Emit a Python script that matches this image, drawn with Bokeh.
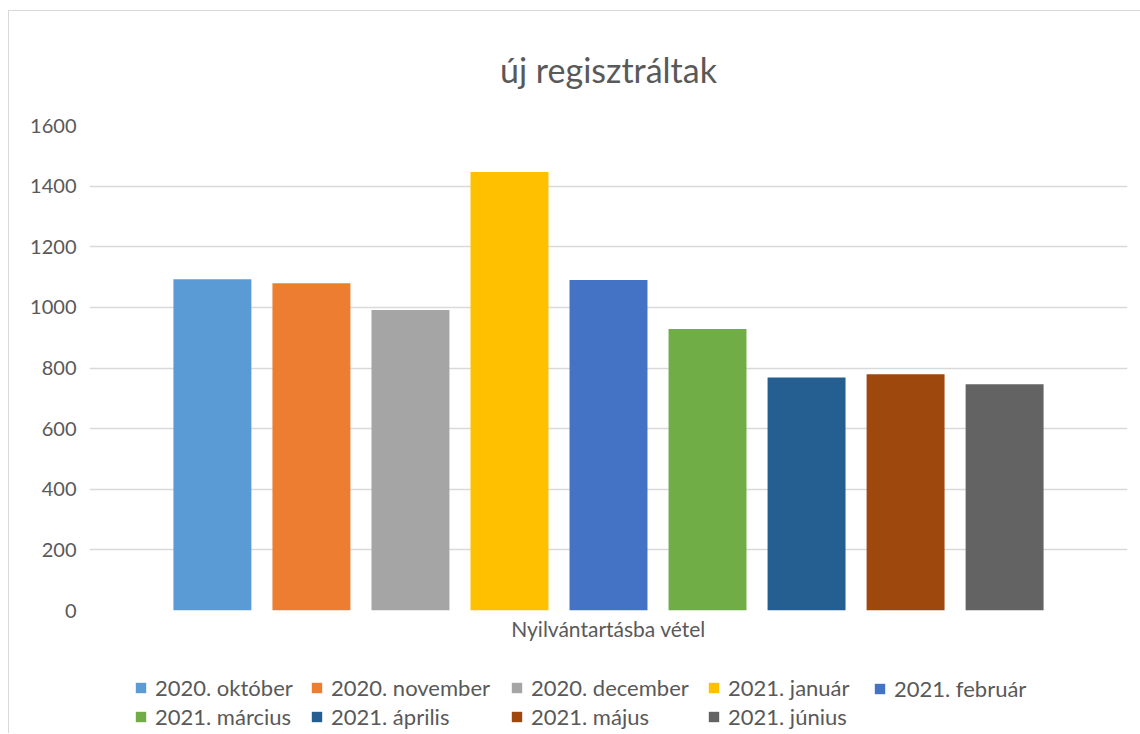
from bokeh.plotting import figure
from bokeh.layouts import column
from bokeh.models import (FactorRange, Range1d, ColumnDataSource, Legend, LegendItem,
                          SingleIntervalTicker)
from bokeh.transform import dodge
from bokeh.embed import file_html
from bokeh.resources import INLINE

title = "új regisztráltak"
category = "Nyilvántartásba vétel"
months = ["2020. október", "2020. november", "2020. december", "2021. január",
          "2021. február", "2021. március", "2021. április", "2021. május", "2021. június"]
values = [1093, 1080, 991, 1447, 1090, 929, 769, 779, 746]
colors = ["#5B9BD5", "#ED7D31", "#A5A5A5", "#FFC000", "#4472C4",
          "#70AD47", "#255E91", "#9E480E", "#636363"]

FONT = "Lato"
TXT = "#595959"
W = 1131

p = figure(x_range=FactorRange(category, range_padding=0), y_range=Range1d(0, 1600),
           width=W, height=650, output_backend="svg", toolbar_location=None,
           min_border_left=80, min_border_right=13, min_border_top=110, min_border_bottom=51)

p.title.text = title
p.title.text_font = FONT
p.title.text_font_size = "34px"
p.title.text_font_style = "normal"
p.title.text_color = TXT
p.title.align = "center"
p.title.standoff = 71

n = len(values)
step = 0.0954
bw = 0.0751
for i, (v, c) in enumerate(zip(values, colors)):
    src = ColumnDataSource(dict(cat=[category], top=[v]))
    p.vbar(x=dodge("cat", (i - (n - 1) / 2) * step, range=p.x_range), top="top",
           width=bw, source=src, color=c, line_color=None)

p.outline_line_color = None
p.xgrid.grid_line_color = None
p.ygrid.grid_line_color = "#d9d9d9"
p.ygrid.grid_line_width = 1.5

p.yaxis.ticker = SingleIntervalTicker(interval=200)
p.yaxis.axis_line_color = None
p.yaxis.major_tick_line_color = None
p.yaxis.major_tick_out = 0
p.yaxis.minor_tick_line_color = None
p.yaxis.major_label_text_font = FONT
p.yaxis.major_label_text_font_size = "20px"
p.yaxis.major_label_text_color = TXT
p.yaxis.major_label_standoff = 9

p.xaxis.axis_line_color = None
p.xaxis.major_tick_line_color = None
p.xaxis.major_tick_out = 0
p.xaxis.major_label_text_font = FONT
p.xaxis.major_label_text_font_size = "21px"
p.xaxis.major_label_text_color = TXT
p.xaxis.major_label_standoff = 5

# legend strip: same series and colours; its bars lie far outside the visible
# ranges, only the legend swatches show
lf = figure(width=W, height=72, output_backend="svg", toolbar_location=None,
            x_range=Range1d(1000, 1001), y_range=Range1d(100000, 100001),
            min_border_left=0, min_border_right=0, min_border_top=0, min_border_bottom=0)
lf.axis.visible = False
lf.grid.visible = False
lf.outline_line_color = None

rends = []
for i, (v, c) in enumerate(zip(values, colors)):
    src = ColumnDataSource(dict(x=[i], top=[v]))
    r = lf.vbar(x="x", top="top", bottom=0, width=0.5, source=src, color=c, line_color=None)
    rends.append(r)

ncols = 5
col_x = [45, 221, 421, 618, 784]
for k in range(ncols):
    idx = [j for j in range(k, n, ncols)]
    items = [LegendItem(label=months[j], renderers=[rends[j]]) for j in idx]
    y0 = 3 + (2 - len(idx)) * 28
    lg = Legend(items=items, orientation="vertical", location=(col_x[k], y0),
                border_line_color=None, background_fill_alpha=0,
                label_text_font=FONT, label_text_font_size="22px", label_text_color=TXT,
                glyph_width=13, glyph_height=13, label_standoff=8, spacing=2,
                label_height=24, padding=0, margin=0)
    lf.add_layout(lg, "center")

layout = column(p, lf, spacing=0)
layout.styles = {"position": "relative", "left": "8px", "top": "10px",
                 "border-left": "1px solid #d9d9d9", "border-top": "1px solid #d9d9d9"}

open("out.html", "w").write(file_html(layout, INLINE))
